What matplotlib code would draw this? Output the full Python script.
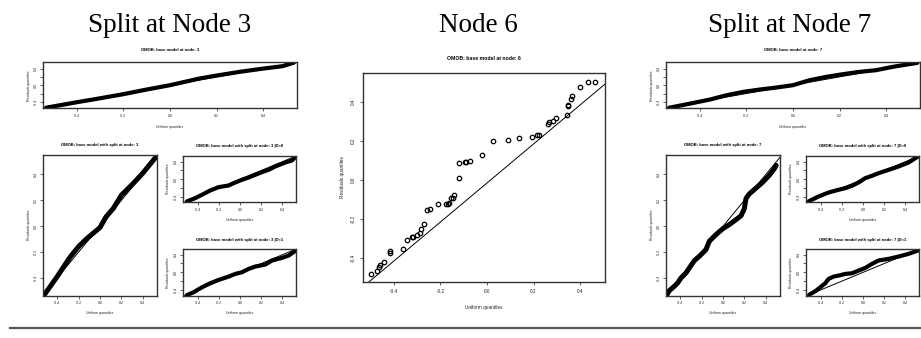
import numpy as np
import matplotlib.pyplot as plt
from matplotlib.lines import Line2D

plt.rcParams['font.family'] = ['Liberation Sans', 'DejaVu Sans']

W, H = 921, 338

# ---- data: (uniform quantile, residual quantile) ----
# node 3, base model
n3_base_u = [-0.53, -0.398, -0.313, -0.2, -0.1, 0.0, 0.126, 0.2, 0.297, 0.4, 0.481, 0.53]
n3_base_r = [-0.54, -0.408, -0.328, -0.216, -0.104, 0.0, 0.16, 0.232, 0.32, 0.4, 0.456, 0.54]
# node 3, with split
n3_split_u = [-0.518, -0.403, -0.279, -0.198, -0.124, 0.0, 0.056, 0.124, 0.2, 0.31, 0.403, 0.521]
n3_split_r = [-0.527, -0.393, -0.238, -0.155, -0.096, -0.01, 0.072, 0.137, 0.24, 0.33, 0.413, 0.533]
# node 3, D=0
n3_d0_u = [-0.505, -0.426, -0.363, -0.284, -0.205, -0.11, -0.047, 0.016, 0.079, 0.142, 0.205, 0.268, 0.331, 0.426, 0.489, 0.527]
n3_d0_r = [-0.51, -0.434, -0.358, -0.259, -0.183, -0.145, -0.076, -0.015, 0.038, 0.099, 0.16, 0.213, 0.29, 0.381, 0.427, 0.518]
# node 3, D=1
n3_d1_u = [-0.505, -0.442, -0.363, -0.284, -0.205, -0.11, -0.047, 0.016, 0.079, 0.142, 0.237, 0.3, 0.395, 0.458, 0.527]
n3_d1_r = [-0.52, -0.457, -0.343, -0.251, -0.175, -0.099, -0.038, 0.0, 0.076, 0.13, 0.175, 0.267, 0.328, 0.381, 0.495]

# node 6
n6_u = [-0.498, -0.474, -0.463, -0.460, -0.443, -0.417, -0.417, -0.360, -0.344, -0.322,
        -0.318, -0.300, -0.290, -0.285, -0.271, -0.260, -0.246, -0.211, -0.176, -0.168,
        -0.162, -0.154, -0.145, -0.142, -0.122, -0.122, -0.094, -0.090, -0.072, -0.020,
        0.026, 0.090, 0.137, 0.194, 0.214, 0.225, 0.262, 0.268, 0.284, 0.298,
        0.344, 0.350, 0.350, 0.360, 0.367, 0.400, 0.432, 0.465]
n6_r = [-0.482, -0.465, -0.444, -0.437, -0.421, -0.376, -0.362, -0.355, -0.308, -0.290,
        -0.290, -0.284, -0.274, -0.253, -0.226, -0.154, -0.147, -0.123, -0.123, -0.121,
        -0.118, -0.092, -0.090, -0.075, 0.010, 0.085, 0.092, 0.092, 0.096, 0.127,
        0.202, 0.205, 0.215, 0.222, 0.229, 0.232, 0.287, 0.297, 0.304, 0.318,
        0.335, 0.379, 0.386, 0.417, 0.431, 0.475, 0.504, 0.504]
n6_line = (-0.015, 1.0)  # intercept, slope

# node 7, base model
n7_base_u = [-0.53, -0.496, -0.411, -0.355, -0.284, -0.213, -0.142, -0.071, 0.0, 0.071, 0.142, 0.213, 0.284, 0.355, 0.426, 0.496, 0.532]
n7_base_r = [-0.54, -0.504, -0.408, -0.344, -0.24, -0.16, -0.104, -0.056, 0.0, 0.12, 0.2, 0.264, 0.32, 0.36, 0.44, 0.504, 0.536]
# node 7, with split
n7_split_u = [-0.527, -0.502, -0.455, -0.424, -0.393, -0.346, -0.315, -0.268, -0.221, -0.159, -0.128, -0.066,
              0.0, 0.058, 0.12, 0.168, 0.199, 0.215, 0.246, 0.309, 0.371, 0.434, 0.48, 0.496]
n7_split_r = [-0.534, -0.498, -0.464, -0.439, -0.4, -0.361, -0.323, -0.266, -0.232, -0.181, -0.116, -0.065,
              -0.018, 0.012, 0.05, 0.08, 0.135, 0.215, 0.25, 0.295, 0.34, 0.395, 0.445, 0.47]
# node 7, D=0
n7_d0_u = [-0.518, -0.423, -0.328, -0.234, -0.17, -0.107, -0.044, 0.019, 0.082, 0.145, 0.24, 0.335, 0.429, 0.518]
n7_d0_r = [-0.51, -0.396, -0.305, -0.244, -0.206, -0.152, -0.076, 0.023, 0.076, 0.137, 0.213, 0.29, 0.381, 0.518]
# node 7, D=1
n7_d1_u = [-0.511, -0.455, -0.407, -0.36, -0.328, -0.281, -0.234, -0.17, -0.107, -0.044, 0.019, 0.082,
           0.145, 0.24, 0.335, 0.429, 0.518]
n7_d1_r = [-0.51, -0.434, -0.343, -0.251, -0.152, -0.099, -0.076, -0.038, -0.023, 0.038, 0.099, 0.19,
           0.267, 0.305, 0.358, 0.419, 0.495]

ticks = [-0.4, -0.2, 0.0, 0.2, 0.4]
labs_all = ['-0.4', '-0.2', '0.0', '0.2', '0.4']
labs_few = ['-0.4', '', '0.0', '', '0.4']

fig = plt.figure(figsize=(W / 100, H / 100), dpi=100)


def panel(box, u, r, title, xlim, ylim, ylabs, fs_t, fs, dt, dxl, dyl, dtx, dty,
          line=(0.0, 1.0), lw=3.0, points=False):
    # box in pixels: left, top, right, bottom
    x0, y0, x1, y1 = box
    w, h = x1 - x0, y1 - y0
    ax = fig.add_axes([x0 / W, 1 - y1 / H, w / W, h / H])
    if points:
        ax.plot(u, r, 'o', mfc='none', mec='black', ms=3.2, mew=0.9)
    else:
        ax.plot(u, r, '-', color='black', lw=lw, solid_capstyle='round', solid_joinstyle='round')
    ax.axline((0, line[0]), slope=line[1], color='black', lw=0.7)
    ax.set_xlim(xlim)
    ax.set_ylim(ylim)
    ax.set_xticks(ticks)
    ax.set_xticklabels(labs_all)
    ax.set_yticks(ticks)
    ax.set_yticklabels(ylabs, rotation=90, va='center')
    ax.tick_params(direction='out', length=2, width=0.5, labelsize=fs, colors='#222222')
    ax.tick_params(axis='x', pad=dtx)
    ax.tick_params(axis='y', pad=dty)
    for s in ax.spines.values():
        s.set_linewidth(1.0)
        s.set_color('#333333')
    ax.set_title(title, fontsize=fs_t, fontweight='bold', y=1 + dt / h, va='center', pad=0)
    ax.set_xlabel('Uniform quantiles', fontsize=fs, va='center', color='#222222')
    ax.xaxis.set_label_coords(0.5, -dxl / h)
    ax.set_ylabel('Residuals quantiles', fontsize=fs, va='center', color='#222222')
    ax.yaxis.set_label_coords(-dyl / w, 0.5)
    return ax


def group(dx, node, base, split, d0, d1):
    small = dict(fs_t=3.0, fs=2.5, dtx=2.0, dty=1.3)
    panel((42.7 + dx, 62.3, 297.3 + dx, 108.3), base[0], base[1],
          f'OMOB: base model at node: {node}', (-0.545, 0.545), (-0.555, 0.55), labs_few,
          dt=12, dxl=18.5, dyl=13.7, lw=3.0, **small)
    panel((42.7 + dx, 155, 157.3 + dx, 295.5), split[0], split[1],
          f'OMOB: base model with split at node: {node}', (-0.535, 0.535), (-0.535, 0.55), labs_all,
          dt=9.5, dxl=17.5, dyl=13.7, lw=3.6, **small)
    panel((182.7 + dx, 156, 296 + dx, 202.3), d0[0], d0[1],
          f'OMOB: base model with split at node: {node} |D=0', (-0.545, 0.528), (-0.53, 0.53), labs_few,
          dt=9.5, dxl=17.5, dyl=14.5, lw=3.0, **small)
    panel((182.7 + dx, 249, 296 + dx, 295.5), d1[0], d1[1],
          f'OMOB: base model with split at node: {node} |D=1', (-0.545, 0.528), (-0.53, 0.53), labs_few,
          dt=9.5, dxl=17.5, dyl=14.5, lw=3.0, **small)


group(0, 3, (n3_base_u, n3_base_r), (n3_split_u, n3_split_r), (n3_d0_u, n3_d0_r), (n3_d1_u, n3_d1_r))
group(623, 7, (n7_base_u, n7_base_r), (n7_split_u, n7_split_r), (n7_d0_u, n7_d0_r), (n7_d1_u, n7_d1_r))

panel((363, 73, 605, 282), n6_u, n6_r, 'OMOB: base model at node: 6',
      (-0.533, 0.507), (-0.523, 0.549), labs_all, fs_t=3.7, fs=3.4,
      dt=14.7, dxl=26, dyl=21, dtx=3.2, dty=3.2, line=n6_line, points=True)

# headings
for x, txt in [(170, 'Split at Node 3'), (478, 'Node 6'), (790, 'Split at Node 7')]:
    fig.text(x / W, 1 - 31.5 / H, txt, ha='center', va='baseline', fontsize=19.5,
             family='Liberation Serif')

# bottom rule
fig.add_artist(Line2D([10 / W, 1.0], [1 - 328 / H] * 2, color='#555555', lw=1.6))

fig.savefig('out.png', dpi=100)
